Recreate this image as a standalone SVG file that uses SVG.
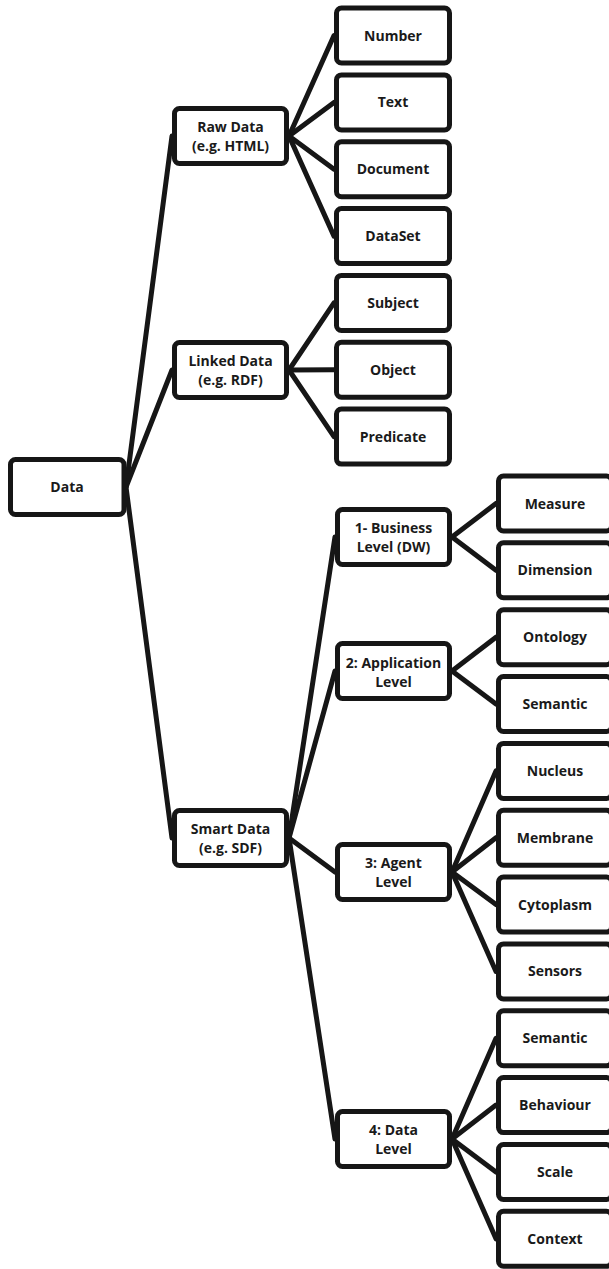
<svg xmlns="http://www.w3.org/2000/svg" width="609" height="1269" viewBox="0 0 609 1269">
<style>
.n rect{fill:#fff;stroke:#161616;stroke-width:5}
.n text{font-family:"Open Sans","Liberation Sans",sans-serif;font-weight:bold;font-size:14px;fill:#1a1a1a;text-anchor:middle}
#conn line{stroke:#161616;stroke-width:5;stroke-linecap:round}
</style>
<rect width="609" height="1269" fill="#fff"/>
<g id="conn">
<line x1="126" y1="487" x2="172" y2="136"/>
<line x1="126" y1="487" x2="172" y2="370"/>
<line x1="126" y1="487" x2="172" y2="838"/>
<line x1="289" y1="136" x2="334" y2="35.5"/>
<line x1="289" y1="136" x2="334" y2="102.4"/>
<line x1="289" y1="136" x2="334" y2="169.2"/>
<line x1="289" y1="136" x2="334" y2="236.1"/>
<line x1="289" y1="370" x2="334" y2="302.9"/>
<line x1="289" y1="370" x2="334" y2="369.8"/>
<line x1="289" y1="370" x2="334" y2="436.6"/>
<line x1="289" y1="838" x2="335" y2="537"/>
<line x1="289" y1="838" x2="335" y2="671"/>
<line x1="289" y1="838" x2="335" y2="872"/>
<line x1="289" y1="838" x2="335" y2="1139"/>
<line x1="452" y1="537" x2="496" y2="503.5"/>
<line x1="452" y1="537" x2="496" y2="570.3"/>
<line x1="452" y1="671" x2="496" y2="637.2"/>
<line x1="452" y1="671" x2="496" y2="704"/>
<line x1="452" y1="872" x2="496" y2="770.9"/>
<line x1="452" y1="872" x2="496" y2="837.7"/>
<line x1="452" y1="872" x2="496" y2="904.6"/>
<line x1="452" y1="872" x2="496" y2="971.4"/>
<line x1="452" y1="1139" x2="496" y2="1038.3"/>
<line x1="452" y1="1139" x2="496" y2="1105.1"/>
<line x1="452" y1="1139" x2="496" y2="1172"/>
<line x1="452" y1="1139" x2="496" y2="1238.8"/>
</g>
<g id="data" class="n"><rect x="10.5" y="459.5" width="113.5" height="55" rx="5"/><text x="67" y="492">Data</text></g>
<g id="raw" class="n"><rect x="174.5" y="108.5" width="112" height="55" rx="5"/><text x="230.5" y="132">Raw Data</text><text x="230.5" y="151">(e.g. HTML)</text></g>
<g id="linked" class="n"><rect x="174.5" y="342.5" width="112" height="55" rx="5"/><text x="230.5" y="366">Linked Data</text><text x="230.5" y="385">(e.g. RDF)</text></g>
<g id="smart" class="n"><rect x="174.5" y="810.5" width="112" height="55" rx="5"/><text x="230.5" y="834">Smart Data</text><text x="230.5" y="853">(e.g. SDF)</text></g>
<g id="number" class="n"><rect x="336.5" y="8" width="113" height="55" rx="5"/><text x="393" y="40.5">Number</text></g>
<g id="text" class="n"><rect x="336.5" y="74.9" width="113" height="55" rx="5"/><text x="393" y="107.4">Text</text></g>
<g id="document" class="n"><rect x="336.5" y="141.7" width="113" height="55" rx="5"/><text x="393" y="174.2">Document</text></g>
<g id="dataset" class="n"><rect x="336.5" y="208.6" width="113" height="55" rx="5"/><text x="393" y="241.1">DataSet</text></g>
<g id="subject" class="n"><rect x="336.5" y="275.4" width="113" height="55" rx="5"/><text x="393" y="307.9">Subject</text></g>
<g id="object" class="n"><rect x="336.5" y="342.3" width="113" height="55" rx="5"/><text x="393" y="374.8">Object</text></g>
<g id="predicate" class="n"><rect x="336.5" y="409.1" width="113" height="55" rx="5"/><text x="393" y="441.6">Predicate</text></g>
<g id="business" class="n"><rect x="337.5" y="509.5" width="112" height="55" rx="5"/><text x="393.5" y="533">1- Business</text><text x="393.5" y="552">Level (DW)</text></g>
<g id="application" class="n"><rect x="337.5" y="643.5" width="112" height="55" rx="5"/><text x="393.5" y="668">2: Application</text><text x="393.5" y="687">Level</text></g>
<g id="agent" class="n"><rect x="337.5" y="844.5" width="112" height="55" rx="5"/><text x="393.5" y="868">3: Agent</text><text x="393.5" y="887">Level</text></g>
<g id="datalevel" class="n"><rect x="337.5" y="1111.5" width="112" height="55" rx="5"/><text x="393.5" y="1135">4: Data</text><text x="393.5" y="1154">Level</text></g>
<g id="measure" class="n"><rect x="498.5" y="476" width="113" height="55" rx="5"/><text x="555" y="508.5">Measure</text></g>
<g id="dimension" class="n"><rect x="498.5" y="542.8" width="113" height="55" rx="5"/><text x="555" y="575.3">Dimension</text></g>
<g id="ontology" class="n"><rect x="498.5" y="609.7" width="113" height="55" rx="5"/><text x="555" y="642.2">Ontology</text></g>
<g id="semantic1" class="n"><rect x="498.5" y="676.5" width="113" height="55" rx="5"/><text x="555" y="709">Semantic</text></g>
<g id="nucleus" class="n"><rect x="498.5" y="743.4" width="113" height="55" rx="5"/><text x="555" y="775.9">Nucleus</text></g>
<g id="membrane" class="n"><rect x="498.5" y="810.2" width="113" height="55" rx="5"/><text x="555" y="842.7">Membrane</text></g>
<g id="cytoplasm" class="n"><rect x="498.5" y="877.1" width="113" height="55" rx="5"/><text x="555" y="909.6">Cytoplasm</text></g>
<g id="sensors" class="n"><rect x="498.5" y="943.9" width="113" height="55" rx="5"/><text x="555" y="976.4">Sensors</text></g>
<g id="semantic2" class="n"><rect x="498.5" y="1010.8" width="113" height="55" rx="5"/><text x="555" y="1043.3">Semantic</text></g>
<g id="behaviour" class="n"><rect x="498.5" y="1077.6" width="113" height="55" rx="5"/><text x="555" y="1110.1">Behaviour</text></g>
<g id="scale" class="n"><rect x="498.5" y="1144.5" width="113" height="55" rx="5"/><text x="555" y="1177">Scale</text></g>
<g id="context" class="n"><rect x="498.5" y="1211.3" width="113" height="55" rx="5"/><text x="555" y="1243.8">Context</text></g>
</svg>
